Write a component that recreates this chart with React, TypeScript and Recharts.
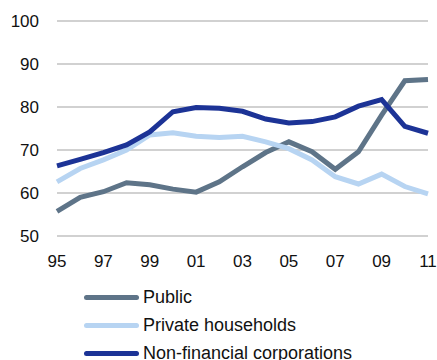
import React from "react";
import { LineChart, Line, XAxis, YAxis, CartesianGrid } from "recharts";

const years = [1995, 1996, 1997, 1998, 1999, 2000, 2001, 2002, 2003, 2004, 2005, 2006, 2007, 2008, 2009, 2010, 2011];
const publicDebt = [55.7, 59.0, 60.3, 62.4, 61.9, 60.9, 60.2, 62.6, 66.1, 69.4, 71.9, 69.6, 65.5, 69.6, 78.1, 86.1, 86.4];
const privateHouseholds = [62.6, 65.7, 67.7, 70.0, 73.5, 74.0, 73.2, 72.9, 73.2, 71.9, 70.3, 67.7, 63.8, 62.1, 64.4, 61.5, 59.8];
const nonFinancial = [66.3, 67.8, 69.4, 71.2, 74.2, 78.9, 79.9, 79.7, 79.0, 77.2, 76.3, 76.6, 77.7, 80.2, 81.7, 75.5, 73.9];
const xTicks = [1995, 1997, 1999, 2001, 2003, 2005, 2007, 2009, 2011];
const yTicks = [50, 60, 70, 80, 90, 100];

const series = [
  { key: "public", name: "Public", color: "#5e7488" },
  { key: "private", name: "Private households", color: "#b7d4f2" },
  { key: "nfc", name: "Non-financial corporations", color: "#1c3396" },
];

const data = years.map((y, i) => ({
  year: y,
  public: publicDebt[i],
  private: privateHouseholds[i],
  nfc: nonFinancial[i],
}));

const FONT = "'Liberation Sans', Arial, sans-serif";

export default function App() {
  return (
    <div style={{ position: "absolute", left: 0, top: 0, width: 437, height: 360, overflow: "hidden", background: "#fff" }}>
      <LineChart width={437} height={280} data={data} margin={{ top: 21, right: 9, bottom: 14, left: 0 }}>
        <CartesianGrid vertical={false} stroke="#a3a3a3" strokeWidth={1} />
        <XAxis
          dataKey="year"
          type="number"
          domain={[1995, 2011]}
          ticks={xTicks}
          tickFormatter={(v: number) => String(v % 100).padStart(2, "0")}
          axisLine={false}
          tickLine={false}
          tickMargin={13}
          height={30}
          interval={0}
          tick={{ fontFamily: FONT, fontSize: 17, fill: "#111" }}
        />
        <YAxis
          domain={[50, 100]}
          ticks={yTicks}
          width={57}
          axisLine={false}
          tickLine={false}
          tickMargin={12}
          interval={0}
          tick={{ fontFamily: FONT, fontSize: 17, fill: "#111" }}
        />
        {series.map((s) => (
          <Line
            key={s.key}
            dataKey={s.key}
            name={s.name}
            stroke={s.color}
            strokeWidth={5}
            dot={false}
            activeDot={false}
            isAnimationActive={false}
          />
        ))}
      </LineChart>
      <div style={{ position: "absolute", left: 84, top: 283, fontFamily: FONT, fontSize: 18, color: "#111" }}>
        {series.map((s) => (
          <div key={s.key} style={{ display: "flex", alignItems: "center", height: 28, whiteSpace: "nowrap" }}>
            <div style={{ width: 55, height: 5, borderRadius: 3, background: s.color, marginRight: 4 }} />
            <span>{s.name}</span>
          </div>
        ))}
      </div>
    </div>
  );
}
